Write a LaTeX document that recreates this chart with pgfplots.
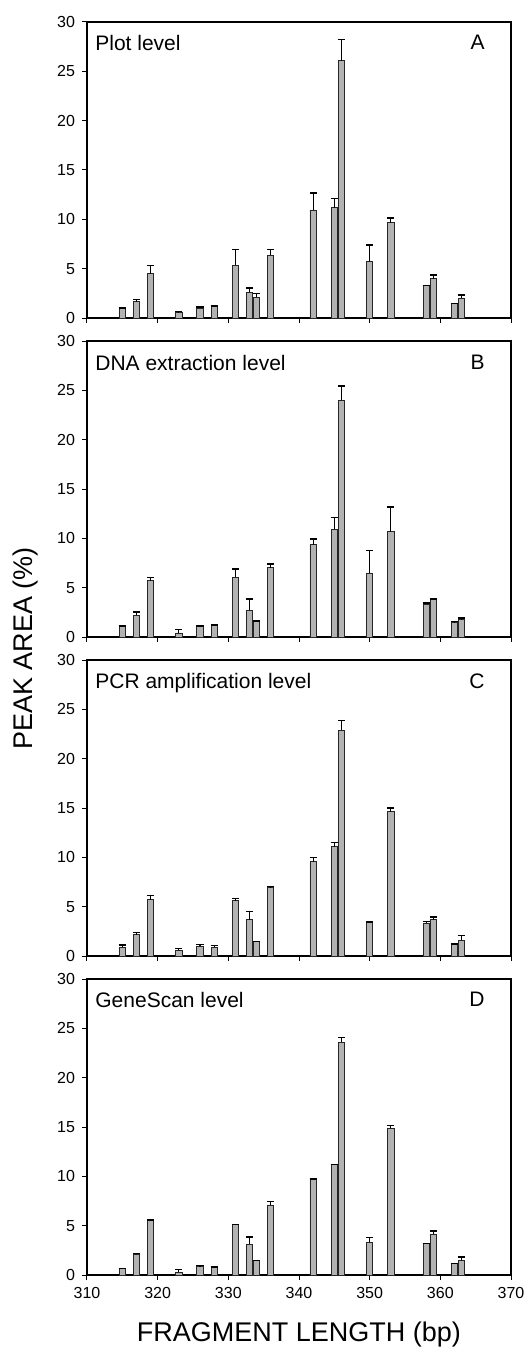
\documentclass[border=0pt]{standalone}
\usepackage{fontspec}
\setmainfont{Liberation Sans}
\usepackage{pgfplots}
\usepackage{pgfplotstable}
\pgfplotsset{compat=1.18}

% fragment length (bp), mean peak area (%), upper error
\pgfplotstableread{
x y e
315 0.92 0.10
317 1.63 0.23
319 4.50 0.80
323 0.60 0.05
326 1.00 0.10
328 1.15 0.05
331 5.35 1.60
333 2.60 0.45
334 2.10 0.40
336 6.37 0.60
342 10.95 1.70
345 11.19 0.90
346 26.07 2.17
350 5.70 1.70
353 9.66 0.48
358 3.29 0.00
359 3.97 0.40
362 1.46 0.00
363 2.03 0.31
}\plotA

\pgfplotstableread{
x y e
315 1.05 0.05
317 2.23 0.31
319 5.72 0.30
323 0.41 0.33
326 1.05 0.05
328 1.18 0.05
331 6.05 0.85
333 2.70 1.16
334 1.62 0.00
336 7.00 0.40
342 9.37 0.57
345 10.92 1.22
346 23.98 1.45
350 6.49 2.30
353 10.65 2.51
358 3.31 0.14
359 3.86 0.00
362 1.45 0.11
363 1.76 0.17
}\plotB

\pgfplotstableread{
x y e
315 0.91 0.21
317 2.16 0.24
319 5.72 0.43
323 0.57 0.21
326 0.98 0.17
328 0.91 0.17
331 5.61 0.24
333 3.69 0.81
334 1.45 0.00
336 6.97 0.06
342 9.57 0.41
345 11.09 0.41
346 22.86 1.02
350 3.45 0.00
353 14.64 0.36
358 3.35 0.13
359 3.69 0.27
362 1.22 0.00
363 1.59 0.47
}\plotC

\pgfplotstableread{
x y e
315 0.68 0.00
317 2.10 0.10
319 5.58 0.00
323 0.30 0.27
326 0.88 0.07
328 0.81 0.00
331 5.10 0.00
333 3.11 0.75
334 1.49 0.00
336 7.10 0.34
342 9.74 0.00
345 11.19 0.00
346 23.60 0.48
350 3.31 0.51
353 14.85 0.33
358 3.18 0.00
359 4.16 0.30
362 1.18 0.00
363 1.52 0.31
}\plotD

\pgfplotsset{
  panel/.style={
    scale only axis, width=212pt, height=148pt, anchor=north west,
    xmin=310, xmax=370, ymin=0, ymax=30,
    xtick={310,320,...,370}, ytick={0,5,...,30},
    tick pos=left, tick align=outside, major tick length=2.5pt,
    tick style={black, line width=0.5pt},
    axis line style={line width=0.6pt},
    ticklabel style={font=\fontsize{8}{9.5}\selectfont},
    /pgf/number format/assume math mode=true,
    ybar, bar width=0.9,
  },
  bars/.style={fill=black!30, draw=black!85, line width=0.45pt,
    error bars/.cd, y dir=plus, y explicit, error mark=-,
    error mark options={rotate=90, black, mark size=1.8pt, line width=0.7pt},
    error bar style={black, line width=0.6pt}},
}
\tikzset{lab/.style={inner sep=0pt, font=\fontsize{10.5}{12}\selectfont}}

\begin{document}
\begin{tikzpicture}
\useasboundingbox (-43.5pt,11pt) rectangle (218.5pt,-663pt);

\begin{axis}[panel, at={(0pt,0pt)}, xticklabels={}]
\addplot[bars] table[x=x, y=y, y error=e] {\plotA};
\node[lab, anchor=north west] at ([xshift=4pt,yshift=-6.5pt]rel axis cs:0,1) {Plot level};
\node[lab, anchor=north east] at ([xshift=-13pt,yshift=-6.5pt]rel axis cs:1,1) {A};
\end{axis}

\begin{axis}[panel, at={(0pt,-159.5pt)}, xticklabels={}]
\addplot[bars] table[x=x, y=y, y error=e] {\plotB};
\node[lab, anchor=north west] at ([xshift=4pt,yshift=-7pt]rel axis cs:0,1) {DNA extraction level};
\node[lab, anchor=north east] at ([xshift=-13pt,yshift=-7pt]rel axis cs:1,1) {B};
\end{axis}

\begin{axis}[panel, at={(0pt,-319pt)}, xticklabels={}]
\addplot[bars] table[x=x, y=y, y error=e] {\plotC};
\node[lab, anchor=north west] at ([xshift=4pt,yshift=-6.5pt]rel axis cs:0,1) {PCR amplification level};
\node[lab, anchor=north east] at ([xshift=-13pt,yshift=-6.5pt]rel axis cs:1,1) {C};
\end{axis}

\begin{axis}[panel, at={(0pt,-478.5pt)}]
\addplot[bars] table[x=x, y=y, y error=e] {\plotD};
\node[lab, anchor=north west] at ([xshift=4pt,yshift=-6.5pt]rel axis cs:0,1) {GeneScan level};
\node[lab, anchor=north east] at ([xshift=-13pt,yshift=-6.5pt]rel axis cs:1,1) {D};
\end{axis}

\node[rotate=90, anchor=base, inner sep=0pt, font=\fontsize{13.5}{16}\selectfont]
  at (-27pt,-313.25pt) {PEAK AREA (\%)};
\node[anchor=base, inner sep=0pt, font=\fontsize{13.5}{16}\selectfont]
  at (106pt,-659.5pt) {FRAGMENT LENGTH (bp)};
\end{tikzpicture}
\end{document}
